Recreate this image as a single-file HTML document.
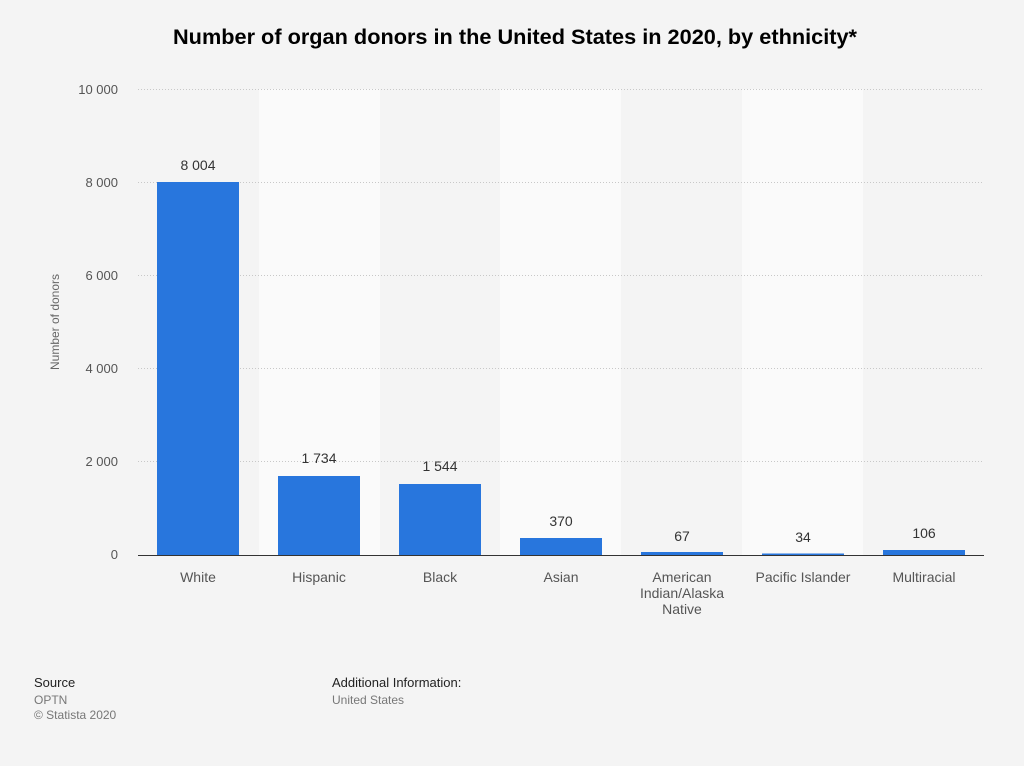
<!DOCTYPE html>
<html><head><meta charset="utf-8"><style>
body{margin:0;width:1024px;height:761px;background:#f4f4f4;font-family:"Liberation Sans",sans-serif;overflow:hidden}
</style></head><body>
<svg width="1024" height="761" xmlns="http://www.w3.org/2000/svg" font-family="Liberation Sans, sans-serif">
<rect width="1024" height="761" fill="#f4f4f4"/>
<text x="173" y="44" font-size="21" font-weight="bold" fill="#000" textLength="684" lengthAdjust="spacingAndGlyphs">Number of organ donors in the United States in 2020, by ethnicity*</text>
<g fill="#fafafa">
<rect x="259" y="89" width="121" height="466"/>
<rect x="500" y="89" width="121" height="466"/>
<rect x="742" y="89" width="121" height="466"/>
</g>
<g stroke="#c8c8c8" stroke-dasharray="1,2">
<line x1="138" x2="984" y1="89.5" y2="89.5"/>
<line x1="138" x2="984" y1="182.5" y2="182.5"/>
<line x1="138" x2="984" y1="275.5" y2="275.5"/>
<line x1="138" x2="984" y1="368.5" y2="368.5"/>
<line x1="138" x2="984" y1="461.5" y2="461.5"/>
</g>
<g font-size="13" fill="#555" text-anchor="end">
<text x="118" y="94">10 000</text><text x="118" y="187">8 000</text><text x="118" y="280">6 000</text><text x="118" y="373">4 000</text><text x="118" y="466">2 000</text><text x="118" y="559">0</text>
</g>
<text transform="translate(59,322) rotate(-90)" text-anchor="middle" font-size="12" fill="#666">Number of donors</text>
<g fill="#2876dd">
<rect x="157" y="182" width="82" height="373"/>
<rect x="278" y="476" width="82" height="79"/>
<rect x="399" y="484" width="82" height="71"/>
<rect x="520" y="538" width="82" height="17"/>
<rect x="641" y="552" width="82" height="3"/>
<rect x="762" y="553.5" width="82" height="1.5"/>
<rect x="883" y="550" width="82" height="5"/>
</g>
<line x1="138" x2="984" y1="555.5" y2="555.5" stroke="#333"/>
<g font-size="14" fill="#333" text-anchor="middle">
<text x="198" y="170">8 004</text><text x="319" y="463">1 734</text><text x="440" y="471">1 544</text><text x="561" y="526">370</text><text x="682" y="541">67</text><text x="803" y="542">34</text><text x="924" y="538">106</text>
</g>
<g font-size="14" fill="#555" text-anchor="middle">
<text x="198" y="582">White</text><text x="319" y="582">Hispanic</text><text x="440" y="582">Black</text><text x="561" y="582">Asian</text>
<text x="682" y="582">American</text><text x="682" y="598">Indian/Alaska</text><text x="682" y="614">Native</text>
<text x="803" y="582">Pacific Islander</text><text x="924" y="582">Multiracial</text>
</g>
<text x="34" y="687" font-size="13" fill="#222">Source</text>
<text x="34" y="704" font-size="12" fill="#777">OPTN</text>
<text x="34" y="719" font-size="12" fill="#777">© Statista 2020</text>
<text x="332" y="687" font-size="13" fill="#222">Additional Information:</text>
<text x="332" y="704" font-size="12" fill="#777">United States</text>
</svg>
</body></html>
